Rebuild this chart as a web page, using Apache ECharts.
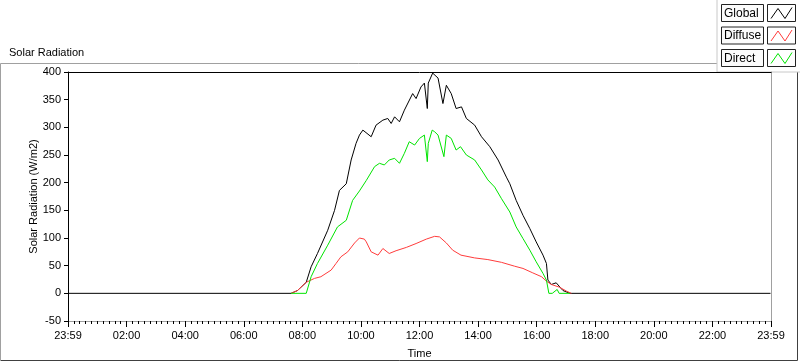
<!DOCTYPE html>
<html>
<head>
<meta charset="utf-8">
<script src="https://cdn.jsdelivr.net/npm/echarts@6/dist/echarts.min.js"></script>
<style>
  html, body { margin: 0; padding: 0; background: #fff; }
  #chart { width: 800px; height: 361px; }
</style>
</head>
<body>
<div id="chart"></div>
<script>
// readings taken off the reference plot (time of day, W/m2)
var globalTimes = ['00:00', '07:37', '07:50', '08:08', '08:18', '08:31', '08:52', '09:06', '09:16', '09:30',
    '09:40', '09:50', '09:57', '10:04', '10:07', '10:21', '10:31', '10:45', '10:55', '11:02', '11:09',
    '11:19', '11:29', '11:46', '11:53', '12:03', '12:10', '12:16', '12:18', '12:27', '12:31', '12:38',
    '12:41', '12:48', '12:55', '13:05', '13:15', '13:26', '13:36', '13:53', '14:07', '14:24', '14:41',
    '14:58', '15:05', '15:18', '15:32', '15:46', '15:59', '16:13', '16:20', '16:23', '16:30', '16:40',
    '16:54', '17:08', '23:59'];
var globalValues = [0, 0, 5, 20, 48, 72, 114, 150, 186, 198,
    241, 271, 286, 295, 298, 283, 304, 313, 316, 307, 319,
    310, 331, 361, 352, 373, 380, 334, 380, 398, 395, 389,
    386, 343, 376, 361, 334, 337, 316, 304, 283, 265, 241,
    210, 198, 168, 141, 117, 93, 69, 54, 24, 16, 19,
    5, 0, 0];

var diffuseTimes = ['07:37', '07:50', '08:08', '08:25', '08:38', '08:59', '09:09', '09:19', '09:33', '09:47',
    '09:57', '10:07', '10:11', '10:21', '10:35', '10:45', '10:58', '11:12', '11:33', '11:53', '12:14',
    '12:31', '12:41', '12:55', '13:08', '13:25', '13:53', '14:20', '14:48', '15:15', '15:32', '15:52',
    '16:10', '16:20', '16:30', '16:47', '17:01', '17:11'];
var diffuseValues = [0, 5, 20, 27, 30, 42, 54, 66, 75, 91,
    100, 98, 93, 75, 69, 81, 72, 77, 83, 90, 98,
    103, 102, 91, 78, 69, 64, 61, 56, 49, 45, 37,
    30, 22, 16, 11, 4, 0];

var directTimes = ['07:37', '08:08', '08:18', '08:31', '08:52', '09:12', '09:30', '09:43', '09:57', '10:11',
    '10:28', '10:38', '10:48', '10:58', '11:09', '11:19', '11:29', '11:39', '11:50', '12:00', '12:10',
    '12:16', '12:18', '12:26', '12:31', '12:38', '12:41', '12:50', '12:55', '13:05', '13:15', '13:24',
    '13:36', '13:53', '14:07', '14:20', '14:34', '14:48', '15:05', '15:18', '15:32', '15:46', '15:59',
    '16:13', '16:20', '16:25', '16:32', '16:42', '16:46', '17:08'];
var directValues = [0, 0, 30, 54, 87, 120, 132, 168, 185, 204,
    229, 235, 232, 241, 244, 235, 253, 274, 268, 280, 286,
    238, 271, 295, 292, 286, 284, 247, 286, 280, 259, 265,
    250, 241, 223, 205, 192, 171, 147, 120, 99, 78, 57,
    36, 24, 0, 0, 7, 0, 0];

var seriesNames = ['Global', 'Diffuse', 'Direct'];
var seriesColors = ['#000000', '#ff3c3c', '#00e400'];
var timeTicks = ['23:59', '02:00', '04:00', '06:00', '08:00', '10:00', '12:00',
    '14:00', '16:00', '18:00', '20:00', '22:00', '23:59'];

function toMin(t) {
    var p = t.split(':');
    return parseInt(p[0], 10) * 60 + parseInt(p[1], 10);
}
function pairs(times, values) {
    return times.map(function (t, i) { return [toMin(t), values[i]]; });
}

var font = 'Liberation Sans';
var dom = document.getElementById('chart');
var myChart = echarts.init(dom);

// legend drawn as boxed cells, like the original
var legendItems = [];
legendItems.push({
    type: 'rect', shape: { x: 717, y: -1, width: 90, height: 73 },
    style: { fill: '#fff', stroke: '#c8c8c8', lineWidth: 1 }
});
seriesNames.forEach(function (name, i) {
    var y = 4.5 + i * 22.5;
    legendItems.push({
        type: 'rect', shape: { x: 721.5, y: y, width: 42, height: 17 },
        style: { fill: '#fbfbfb', stroke: '#222', lineWidth: 1 }
    });
    legendItems.push({
        type: 'text', x: 724, y: y + 9,
        style: { text: name, fill: '#000', font: '12px ' + font, verticalAlign: 'middle' }
    });
    legendItems.push({
        type: 'rect', shape: { x: 767.5, y: y, width: 28, height: 17 },
        style: { fill: '#fff', stroke: '#222', lineWidth: 1 }
    });
    legendItems.push({
        type: 'polyline',
        shape: { points: [[771, y + 14], [778, y + 4], [785, y + 14], [792, y + 3]] },
        style: { stroke: seriesColors[i], lineWidth: 1, fill: null }
    });
});

var option = {
    animation: false,
    backgroundColor: '#fff',
    textStyle: { fontFamily: font },
    title: {
        text: 'Solar Radiation', left: 4, top: 42,
        textStyle: { fontSize: 11, fontWeight: 'normal', color: '#000', fontFamily: font }
    },
    grid: { left: 68, right: 29, top: 72, bottom: 40, outerBoundsMode: 'none', containLabel: false },
    xAxis: [{
        type: 'value', min: 0, max: 1440, interval: 120,
        name: 'Time', nameLocation: 'middle', nameGap: 27, nameMoveOverlap: false,
        nameTextStyle: { fontSize: 11, color: '#000', fontFamily: font },
        axisLine: { onZero: false, lineStyle: { color: '#a0a0a0', width: 1 } },
        axisTick: { show: true, length: 6, lineStyle: { color: '#000' } },
        minorTick: { show: true, splitNumber: 10, length: 3, lineStyle: { color: '#000' } },
        splitLine: { show: false },
        axisLabel: {
            fontSize: 11, color: '#000', margin: 9, fontFamily: font,
            formatter: function (v) { return timeTicks[Math.round(v / 120)]; }
        }
    }, {
        type: 'value', min: 0, max: 1440, position: 'top',
        axisLine: { onZero: false, lineStyle: { color: '#000', width: 1 } },
        axisTick: { show: false }, axisLabel: { show: false }, splitLine: { show: false }
    }],
    yAxis: [{
        type: 'value', min: -50, max: 400, interval: 50,
        name: 'Solar Radiation (W/m2)', nameLocation: 'middle', nameGap: 29, nameMoveOverlap: false,
        nameTextStyle: { fontSize: 11, color: '#000', fontFamily: font },
        axisLine: { show: true, onZero: false, lineStyle: { color: '#000', width: 1 } },
        axisTick: { show: true, length: 4, lineStyle: { color: '#000' } },
        splitLine: { show: false },
        axisLabel: { fontSize: 11, color: '#000', margin: 7, fontFamily: font }
    }, {
        type: 'value', min: -50, max: 400, position: 'right',
        axisLine: { show: true, onZero: false, lineStyle: { color: '#a0a0a0', width: 1 } },
        axisTick: { show: false }, axisLabel: { show: false }, splitLine: { show: false }
    }],
    series: [
        { name: 'Global', type: 'line', data: pairs(globalTimes, globalValues) },
        { name: 'Diffuse', type: 'line', data: pairs(diffuseTimes, diffuseValues) },
        { name: 'Direct', type: 'line', data: pairs(directTimes, directValues) }
    ].map(function (s, i) {
        s.showSymbol = false;
        s.symbol = 'none';
        s.lineStyle = { color: seriesColors[i], width: 1 };
        s.itemStyle = { color: seriesColors[i] };
        s.z = 2 + i;
        return s;
    }),
    graphic: [
        // outer panel frame
        { type: 'polyline', shape: { points: [[0.5, 361], [0.5, 63.5], [717, 63.5]] },
          style: { stroke: '#a0a0a0', lineWidth: 1, fill: null } },
        { type: 'polyline', shape: { points: [[1, 360.5], [797.5, 360.5], [797.5, 72]] },
          style: { stroke: '#404040', lineWidth: 1, fill: null } },
        { type: 'group', children: legendItems }
    ]
};

if (option && typeof option === 'object') {
    myChart.setOption(option, true);
}
</script>
</body>
</html>
